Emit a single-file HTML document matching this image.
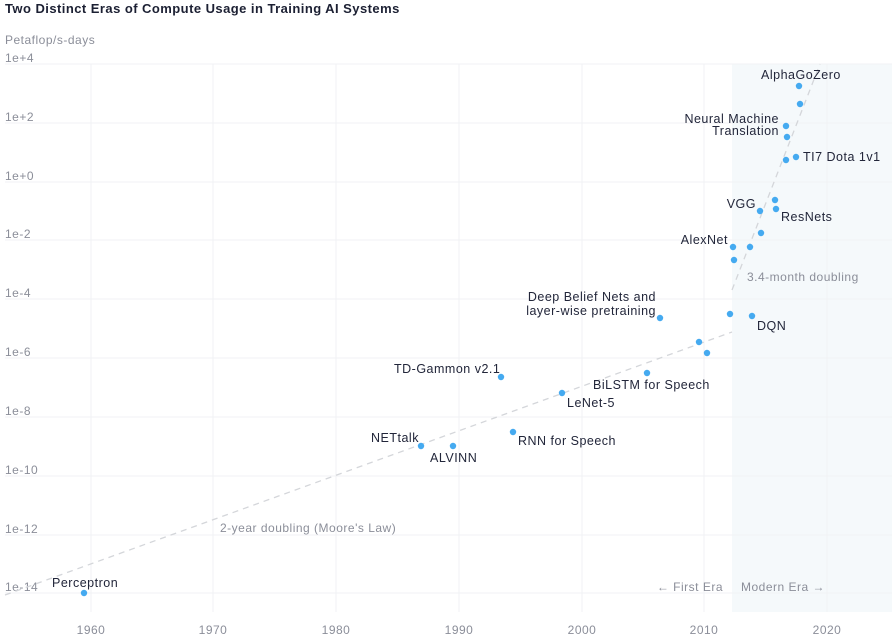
<!DOCTYPE html>
<html><head><meta charset="utf-8"><style>
body{margin:0;background:#fff;}
svg{display:block;font-family:"Liberation Sans","DejaVu Sans",sans-serif;}
.t{fill:#8b8e99;font-size:12px;letter-spacing:0.5px;}
.l{fill:#22263a;font-size:12.5px;letter-spacing:0.5px;}
</style></head><body>
<svg width="892" height="642" viewBox="0 0 892 642">
<rect x="732" y="64" width="160" height="548" fill="#f5f9fb"/>
<g stroke="#f1f2f4" stroke-width="1">
<line x1="5" y1="64" x2="892" y2="64"/><line x1="5" y1="123" x2="892" y2="123"/>
<line x1="5" y1="182" x2="892" y2="182"/><line x1="5" y1="240" x2="892" y2="240"/>
<line x1="5" y1="299" x2="892" y2="299"/><line x1="5" y1="358" x2="892" y2="358"/>
<line x1="5" y1="417" x2="892" y2="417"/><line x1="5" y1="476" x2="892" y2="476"/>
<line x1="5" y1="535" x2="892" y2="535"/><line x1="5" y1="593" x2="892" y2="593"/>
<line x1="91" y1="64" x2="91" y2="612"/><line x1="213" y1="64" x2="213" y2="612"/>
<line x1="336" y1="64" x2="336" y2="612"/><line x1="459" y1="64" x2="459" y2="612"/>
<line x1="582" y1="64" x2="582" y2="612"/><line x1="704" y1="64" x2="704" y2="612"/>
<line x1="827" y1="64" x2="827" y2="612"/>
</g>
<text x="5" y="13" font-size="13" font-weight="bold" fill="#1c2033" letter-spacing="0.45">Two Distinct Eras of Compute Usage in Training AI Systems</text>
<text x="5" y="44" class="t" font-size="12.5">Petaflop/s-days</text>
<g class="t">
<text x="5" y="62">1e+4</text><text x="5" y="121">1e+2</text><text x="5" y="180">1e+0</text>
<text x="5" y="238">1e-2</text><text x="5" y="297">1e-4</text><text x="5" y="356">1e-6</text>
<text x="5" y="415">1e-8</text><text x="5" y="474">1e-10</text><text x="5" y="533">1e-12</text>
<text x="5" y="591">1e-14</text>
</g>
<g class="t" text-anchor="middle">
<text x="91" y="634">1960</text><text x="213" y="634">1970</text><text x="336" y="634">1980</text>
<text x="459" y="634">1990</text><text x="582" y="634">2000</text><text x="704" y="634">2010</text>
<text x="827" y="634">2020</text>
</g>
<line x1="5" y1="595" x2="732" y2="332" stroke="#d4d6da" stroke-width="1.3" stroke-dasharray="6,5"/>
<line x1="732" y1="290" x2="820" y2="64" stroke="#d4d6da" stroke-width="1.3" stroke-dasharray="6,5"/>
<text x="220" y="532" class="t">2-year doubling (Moore's Law)</text>
<text x="747" y="281" class="t">3.4-month doubling</text>
<text x="723" y="591" class="t" text-anchor="end">← First Era</text>
<text x="741" y="591" class="t">Modern Era →</text>
<g fill="#45aaf0">
<circle cx="84" cy="593" r="3.2"/><circle cx="421" cy="446" r="3.2"/><circle cx="453" cy="446" r="3.2"/>
<circle cx="513" cy="432" r="3.2"/><circle cx="501" cy="377" r="3.2"/><circle cx="562" cy="393" r="3.2"/>
<circle cx="647" cy="373" r="3.2"/><circle cx="699" cy="342" r="3.2"/><circle cx="707" cy="353" r="3.2"/>
<circle cx="660" cy="318" r="3.2"/><circle cx="730" cy="314" r="3.2"/><circle cx="752" cy="316" r="3.2"/>
<circle cx="733" cy="247" r="3.2"/><circle cx="734" cy="260" r="3.2"/><circle cx="750" cy="247" r="3.2"/>
<circle cx="761" cy="233" r="3.2"/><circle cx="760" cy="211" r="3.2"/><circle cx="775" cy="200" r="3.2"/>
<circle cx="776" cy="209" r="3.2"/><circle cx="786" cy="160" r="3.2"/><circle cx="796" cy="157" r="3.2"/>
<circle cx="787" cy="137" r="3.2"/><circle cx="786" cy="126" r="3.2"/><circle cx="800" cy="104" r="3.2"/>
<circle cx="799" cy="86" r="3.2"/>
</g>
<g class="l">
<text x="52" y="587">Perceptron</text>
<text x="371" y="442">NETtalk</text>
<text x="430" y="462">ALVINN</text>
<text x="518" y="445">RNN for Speech</text>
<text x="394" y="373">TD-Gammon v2.1</text>
<text x="567" y="407">LeNet-5</text>
<text x="593" y="389">BiLSTM for Speech</text>
<text x="656" y="301" text-anchor="end">Deep Belief Nets and</text>
<text x="656" y="315" text-anchor="end">layer-wise pretraining</text>
<text x="757" y="330">DQN</text>
<text x="728" y="244" text-anchor="end">AlexNet</text>
<text x="756" y="208" text-anchor="end">VGG</text>
<text x="781" y="221">ResNets</text>
<text x="803" y="161">TI7 Dota 1v1</text>
<text x="779" y="123" text-anchor="end">Neural Machine</text>
<text x="779" y="135" text-anchor="end">Translation</text>
<text x="761" y="79">AlphaGoZero</text>
</g>
</svg>
</body></html>
